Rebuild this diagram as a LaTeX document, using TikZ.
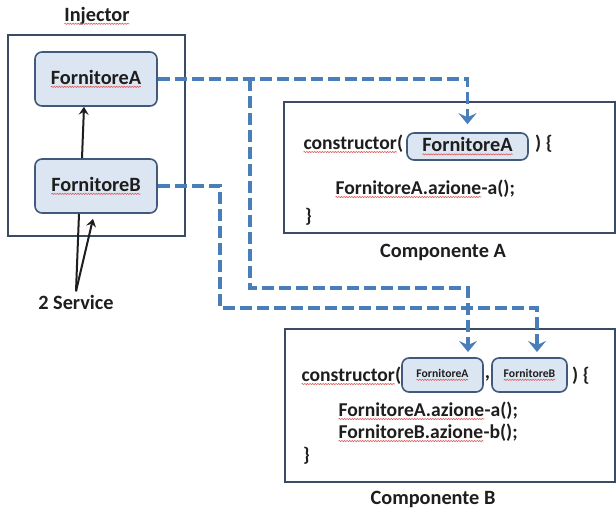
\documentclass[tikz,border=0pt]{standalone}
\usepackage{fontspec}
\setmainfont{Carlito}
\usetikzlibrary{arrows.meta,calc,decorations.pathmorphing}

\definecolor{ink}{HTML}{1E1E1E}
\definecolor{framec}{HTML}{3A4C63}
\definecolor{svcfill}{HTML}{DCE6F2}
\definecolor{svcline}{HTML}{41597A}
\definecolor{wire}{HTML}{4A7EBB}
\definecolor{spellred}{HTML}{E05A5A}

% red wavy underline for words flagged by the spell checker
\newcommand\spell[1]{\tikz[baseline=(w.base)]{%
  \node[inner sep=0pt, outer sep=0pt, font=, anchor=base west, shape=rectangle,
        draw=none, fill=none, minimum width=0pt, minimum height=0pt] (w) at (0,0) {#1};
  \draw[draw=spellred, fill=none, sharp corners, solid, line width=0.6pt, decorate,
        decoration={snake, amplitude=0.6pt, segment length=2.6pt}]
    ([yshift=-2.4pt]w.base west) -- ([yshift=-2.4pt]w.base east);}}

\begin{document}
\begin{tikzpicture}[x=1pt,y=-1pt,
  every node/.style={font=\fontsize{20.3}{24}\bfseries\selectfont, text=ink},
  frame/.style={draw=framec, line width=1.6pt, fill=white, inner sep=0pt},
  svc/.style={draw=svcline, fill=svcfill, line width=1.6pt, rounded corners=7pt, inner sep=0pt},
  small/.style={font=\fontsize{11.7}{14}\bfseries\selectfont},
  code/.style={font=\fontsize{19.6}{24}\bfseries\selectfont},
  txt/.style={inner sep=0pt, anchor=west, code},
  inject/.style={draw=wire, line width=3.5pt, dash pattern=on 12pt off 5pt,
    -{Stealth[length=11pt, width=18pt, inset=4pt]}},
  link/.style={draw=ink, line width=2pt},
  tip/.style={-{Stealth[length=8pt, width=10pt, inset=3pt]}}
]
\useasboundingbox[fill=white] (0,0) rectangle (616,510);

% injector container with its two services
\node (injlbl) at (97,16) {\spell{Injector}};
\node[frame, minimum width=177pt, minimum height=201pt] (inj) at (96.5,135.5) {};
\node[svc, minimum width=122pt, minimum height=54pt] (inA) at (96,79) {\spell{FornitoreA}};
\node[svc, minimum width=122pt, minimum height=54pt] (inB) at (96,186) {\spell{FornitoreB}};

% component A
\node[frame, minimum width=331pt, minimum height=131pt] (compA) at (449.5,167.5) {};
\node (compAlbl) at (443,252) {Componente A};
\node[txt] (ctorA) at (303,144) {\spell{constructor}(};
\node[svc, minimum width=121pt, minimum height=27pt] (cAfa) at (467.5,146.5) {\spell{FornitoreA}};
\node[txt] (openA) at (535,144) {) \{};
\node[txt] (callA) at (335,189) {\spell{FornitoreA.azione}-a();};
\node[txt] (closeA) at (305,217) {\}};

% component B
\node[frame, minimum width=330pt, minimum height=153pt] (compB) at (450,405.5) {};
\node (compBlbl) at (433,499) {Componente B};
\node[txt] (ctorB) at (301,376) {\spell{constructor}(};
\node[svc, small, minimum width=81pt, minimum height=34pt] (cBfa) at (442.5,375) {\spell{FornitoreA}};
\node (comma) at (487.5,378) {,};
\node[svc, small, minimum width=75pt, minimum height=34pt] (cBfb) at (529.5,375) {\spell{FornitoreB}};
\node[txt] (openB) at (572,376) {) \{};
\node[txt] (callBa) at (338,411) {\spell{FornitoreA.azione}-a();};
\node[txt] (callBb) at (338,433) {\spell{FornitoreB.azione}-b();};
\node[txt] (closeB) at (303,456) {\}};

% services label
\node (svclbl) at (76,302) {2 Service};

% dependency of B on A inside the injector
\draw[link, tip] ($(inB.north)+(-14,0)$) -- ($(inA.south)+(-12,0)$);
\draw[link] (svclbl.north) -- ($(inB.south)+(-17,0)$);
\draw[link, tip] (svclbl.north) -- ($(inB.south)+(-3,5)$);

% injection wires
\coordinate (tipA) at ($(cAfa.north)+(0,-8)$);
\coordinate (split) at (250,79);
\coordinate (bendA) at (250,288);
\coordinate (tipBA) at (468,352);
\coordinate (bendB) at (220,308);
\coordinate (tipBB) at (537,352);
\draw[inject] (inA.east) -| (tipA);
\draw[inject] (split) -- (bendA) -| (tipBA);
\draw[inject] (inB.east) -| (bendB) -| (tipBB);
\end{tikzpicture}
\end{document}
